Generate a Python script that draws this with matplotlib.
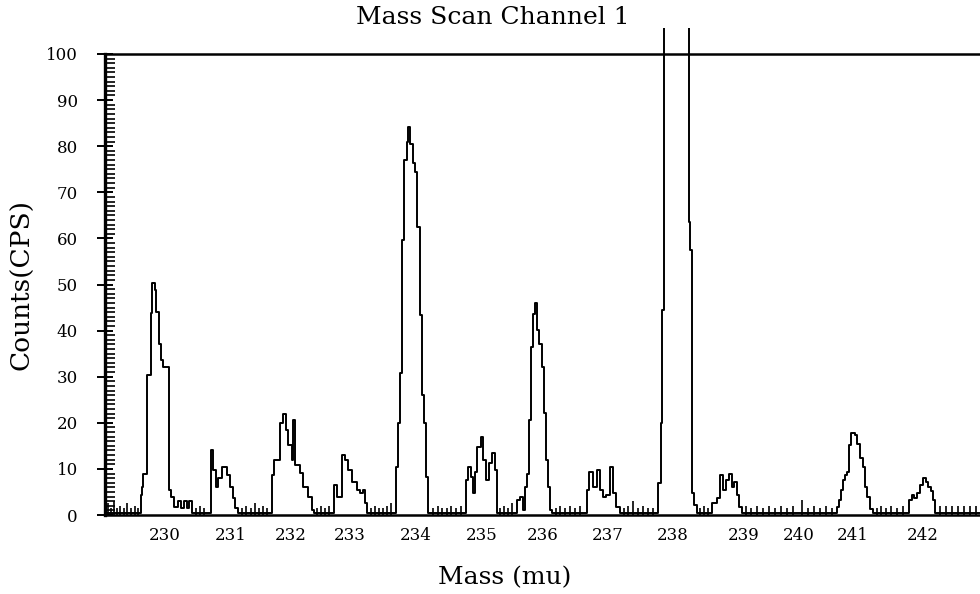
import matplotlib
matplotlib.use("Agg")
import matplotlib.pyplot as plt
from matplotlib.ticker import FixedLocator

# scan position (detector step) and counts
scan_pos = [
    105, 140.7, 142, 143.3, 146.7, 150.7, 152, 154.7, 156, 158.7, 160.7, 163.3,
    168.7, 171, 174, 178, 181, 184, 187, 189, 192,
    210.7, 213.3, 216, 218, 221.7, 226.7, 230, 232.7, 235, 238,
    271.7, 274, 280, 282.7, 286, 288.3, 291.7, 293.3, 295, 300, 303.3, 308.3, 311.7, 314,
    334, 337, 341.7, 345, 348.3, 351.7, 356.7, 360, 362.7, 365, 367.3,
    396, 398.3, 400, 401.7, 404.3, 406.7, 408, 410, 412.7, 415, 417.3, 420, 421.7,
    424, 426, 428.3,
    466, 468.3, 470.7, 472.7, 475, 477.3, 480.7, 483.3, 486, 489.3, 491.7, 495, 496.7,
    516.7, 520, 523.3, 525, 526.7, 528.7, 530.7, 532.7, 534.7, 536.7, 538.7, 541.7,
    544, 546, 548, 550, 552,
    586.7, 589.3, 593.3, 596.7, 600, 602.7, 606, 610, 612.7, 616, 620,
    658.3, 660.7, 662.3, 664, 689, 689.7, 690.3, 691.7, 694, 697,
    711.7, 716.7, 720, 722.7, 726, 729.3, 731.7, 734, 736.7, 738.7, 741.7,
    836.7, 838.7, 840.7, 842.7, 845, 847.3, 849.3, 850.7, 855, 857.3, 860, 862.7,
    865, 867.3, 870, 872.7,
    909.3, 911.7, 914, 916.7, 920, 923.3, 926, 928.3, 930.7, 933.3, 935, 980,
]
counts = [
    0.4, 4.3, 6, 9, 30.4, 43.8, 50.3, 48.8, 44, 37, 33.6, 32,
    5.4, 4, 1.7, 3, 1.5, 3, 1.5, 3, 0.4,
    14, 9.8, 6.1, 8, 10.5, 8.7, 6.1, 3.7, 1.5, 0.4,
    8.7, 12, 20, 22, 18.4, 15.2, 12, 20.6, 10.8, 9.1, 6.1, 4, 1, 0.4,
    6.5, 4, 13, 12, 9.8, 7.2, 5.4, 4.8, 5.4, 2.6, 0.4,
    10.5, 20, 30.8, 59.7, 77, 81, 84.2, 80.5, 76.3, 74.5, 62.5, 43.4, 26,
    20, 8.3, 0.4,
    7.6, 10.5, 8.3, 4.8, 9.4, 14.8, 17, 12, 7.6, 11.2, 13.4, 9.8, 0.4,
    3.3, 4, 1, 6.1, 9, 20.6, 36.5, 43.7, 45.9, 40.1, 37.2, 32.2,
    22.1, 12, 6.1, 1, 0.4,
    5.4, 9.4, 6.1, 9.8, 5.4, 4, 4.3, 10.5, 4.8, 1.8, 0.4,
    6.9, 19.9, 44.5, 400, 63.6, 60.4, 57.5, 4.8, 2.2, 0.4,
    2.5, 3.7, 8.7, 5.4, 7.6, 9, 6.1, 7.2, 4.3, 1.8, 0.4,
    1.8, 3.3, 5.4, 7.6, 8.7, 9.4, 15.2, 17.7, 17.4, 15.5, 12.3, 10.5,
    6.1, 4, 1.4, 0.4,
    3.3, 4.3, 3.7, 4.7, 6.5, 8, 7.2, 6.1, 5.1, 3.3, 0.4, 0.4,
]

# small baseline noise spikes
noise_pos = [
    108, 111, 114, 117, 120, 124, 127, 131, 135, 138,
    196, 200, 204, 242, 246, 251, 255, 259, 263, 267,
    317, 321, 325, 329, 371, 375, 379, 383, 387, 391,
    433, 438, 442, 447, 451, 456, 461, 500, 504, 508, 512,
    556, 560, 565, 570, 575, 580, 624, 628, 633, 638, 643, 648, 653,
    700, 704, 708, 746, 751, 757, 763, 769, 775, 781, 787, 793, 802, 808, 814,
    820, 826, 832, 877, 881, 886, 891, 897, 903,
    940, 946, 952, 958, 964, 970, 976,
]
noise_h = [
    2.5, 1.5, 3, 1.5, 2, 1.5, 2.5, 1.5, 2, 1.5,
    1.5, 2, 1.5, 1.5, 2, 1.5, 2.5, 1.5, 2, 1.5,
    1.5, 2, 1.5, 2, 1.5, 2, 1.5, 1.5, 2, 2.5,
    1.5, 2, 1.5, 1.5, 2, 1.5, 2, 1.5, 2, 1.5, 2.5,
    1.5, 2, 1.5, 2, 1.5, 2, 1.5, 2, 3, 1.5, 2, 1.5, 1.5,
    1.5, 2, 1.5, 2, 1.5, 2, 1.5, 2, 1.5, 2, 1.5, 2, 3.3, 1.5, 2,
    1.5, 2, 1.5, 1.5, 2, 1.5, 2, 1.5, 2,
    2, 2, 2, 2, 2, 2, 2,
]

tick_pos = [165, 231, 291, 350, 416, 482, 543, 608, 673, 744, 799, 853, 923]
tick_labels = ["230", "231", "232", "233", "234", "235", "236", "237",
               "238", "239", "240", "241", "242"]

plt.rcParams["font.family"] = ["DejaVu Serif"]

fig = plt.figure(figsize=(9.8, 5.94), dpi=100)
ax = fig.add_axes([105 / 980, 79 / 594, 875 / 980, (515 - 28) / 594])

ax.step(scan_pos, counts, where="post", color="black", lw=1.4)
ax.vlines(noise_pos, 0, noise_h, color="black", lw=1.2)
ax.axhline(100, color="black", lw=1.8, clip_on=False)

ax.set_xlim(105, 980)
ax.set_ylim(0, (515 - 28) / 4.61)

ax.set_xticks(tick_pos)
ax.set_xticklabels(tick_labels)
ax.set_yticks(range(0, 101, 10))
ax.yaxis.set_minor_locator(FixedLocator([v for v in range(1, 100) if v % 10]))
ax.tick_params(axis="x", length=0, pad=9, labelsize=12)
ax.tick_params(axis="y", which="major", direction="inout", length=11, width=1.4,
               pad=14, labelsize=12)
ax.tick_params(axis="y", which="minor", direction="in", length=7, width=1.2)

for s in ("top", "right"):
    ax.spines[s].set_visible(False)
ax.spines["left"].set_linewidth(2.4)
ax.spines["bottom"].set_linewidth(1.8)
ax.spines["left"].set_bounds(0, 100)

fig.text(493 / 980, 1 - 18 / 594, "Mass Scan Channel 1", ha="center", va="center",
         fontsize=18)
fig.text(505 / 980, 1 - 578 / 594, "Mass (mu)", ha="center", va="center", fontsize=18)
fig.text(22 / 980, 1 - 285 / 594, "Counts(CPS)", ha="center", va="center",
         rotation=90, fontsize=19)

fig.savefig("out.png", dpi=100)
